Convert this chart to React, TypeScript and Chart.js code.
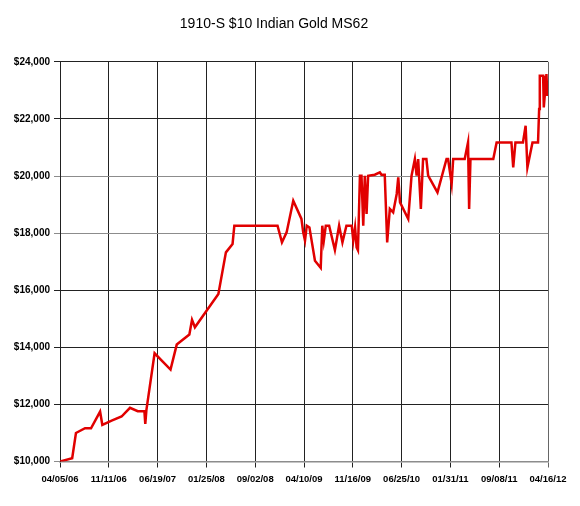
import React, { useEffect, useRef } from "react";
import { Chart, registerables } from "chart.js";

Chart.register(...registerables);

const TITLE = "1910-S $10 Indian Gold MS62";
const START_Y = 2006;
const START_M = 3; // April (0-based)
const START_D = 5;

// days since 04/05/06
const dayOffsets = [
  0, 55, 72, 113, 140, 181, 191, 233, 278, 316, 351, 381, 385, 390, 427, 499,
  527, 584, 596, 609, 715, 749, 779, 787, 982, 1002, 1023, 1053, 1090, 1098,
  1106, 1114, 1126, 1151, 1177, 1184, 1191, 1200, 1215, 1241, 1260, 1275,
  1293, 1317, 1324, 1332, 1339, 1345, 1354, 1361, 1369, 1376, 1384, 1391,
  1421, 1444, 1451, 1466, 1477, 1489, 1504, 1520, 1527, 1535, 1572, 1587,
  1602, 1610, 1617, 1629, 1639, 1654, 1662, 1704, 1745, 1752, 1768, 1775,
  1827, 1842, 1847, 1853, 1956, 1971, 2038, 2046, 2056, 2090, 2102, 2110,
  2133, 2158, 2163, 2166, 2181, 2184, 2192, 2196, 2200,
];

const prices = [
  10000, 10115, 11000, 11165, 11165, 11750, 11285, 11435, 11575, 11880, 11760,
  11760, 11320, 11800, 13790, 13220, 14095, 14445, 14960, 14700, 15870, 17325,
  17620, 18260, 18260, 17675, 18025, 19135, 18495, 18025, 17735, 18260, 18200,
  17035, 16780, 18260, 17735, 18260, 18260, 17410, 18260, 17675, 18260, 18260,
  17735, 18200, 17500, 17400, 20010, 20010, 18260, 20010, 18670, 20010, 20045,
  20125, 20045, 20045, 17675, 18845, 18725, 19370, 19950, 19075, 18495, 20010,
  20595, 20010, 20595, 18845, 20595, 20595, 20010, 19425, 20595, 20595, 19720,
  20595, 20595, 21175, 18845, 20595, 20595, 21175, 21175, 20300, 21175, 21175,
  21760, 20300, 21175, 21175, 22345, 23510, 23510, 22400, 23160, 23570, 22800,
];

const X_MIN = 0;
const X_MAX = 2203;
const X_STEP = 220.3;
const Y_MIN = 10000;
const Y_MAX = 24000;
const Y_STEP = 2000;
const grayGridValues = [10000, 18000, 20000];

const FONT = "'Liberation Sans', Arial, Helvetica, sans-serif";

function fmtDate(offset: number): string {
  const d = new Date(
    Date.UTC(START_Y, START_M, START_D + Math.floor(offset + 1e-6))
  );
  const mm = String(d.getUTCMonth() + 1).padStart(2, "0");
  const dd = String(d.getUTCDate()).padStart(2, "0");
  const yy = String(d.getUTCFullYear() % 100).padStart(2, "0");
  return `${mm}/${dd}/${yy}`;
}

function fmtMoney(v: number): string {
  return "$" + Math.round(v).toLocaleString("en-US");
}

export default function App() {
  const ref = useRef<HTMLCanvasElement | null>(null);

  useEffect(() => {
    if (!ref.current) return;
    const points = dayOffsets.map((x, i) => ({ x, y: prices[i] }));
    const chart = new Chart(ref.current, {
      type: "line",
      data: {
        datasets: [
          {
            data: points,
            borderColor: "#e10000",
            backgroundColor: "#e10000",
            borderWidth: 2.5,
            pointRadius: 0,
            tension: 0,
            fill: false,
          },
        ],
      },
      options: {
        responsive: false,
        animation: false,
        layout: { padding: { left: 0, right: 32, top: 0, bottom: 0 } },
        plugins: {
          legend: { display: false },
          tooltip: { enabled: false },
          title: {
            display: true,
            text: TITLE,
            color: "#000",
            font: { family: FONT, size: 14, weight: "normal" },
            padding: { top: 16, bottom: 29 },
          },
        },
        scales: {
          x: {
            type: "linear",
            min: X_MIN,
            max: X_MAX,
            afterFit: (scale: any) => {
              scale.height = 44.5;
            },
            ticks: {
              stepSize: X_STEP,
              autoSkip: false,
              maxRotation: 0,
              minRotation: 0,
              padding: 6,
              color: "#000",
              font: { family: FONT, size: 9.5, weight: "bold" },
              callback: (v: any) => fmtDate(Number(v)),
            },
            grid: {
              color: (ctx: any) =>
                ctx.tick && Math.abs(ctx.tick.value - X_MAX) < 1
                  ? "#666"
                  : "#222",
              lineWidth: 1,
              drawTicks: true,
              tickLength: 6,
            },
            border: { color: "#8c8c8c", width: 1.5 },
          },
          y: {
            type: "linear",
            min: Y_MIN,
            max: Y_MAX,
            afterFit: (scale: any) => {
              scale.width = 60;
            },
            ticks: {
              stepSize: Y_STEP,
              padding: 4,
              color: "#000",
              font: { family: FONT, size: 10, weight: "bold" },
              callback: (v: any) => fmtMoney(Number(v)),
            },
            grid: {
              color: (ctx: any) =>
                ctx.tick && grayGridValues.includes(ctx.tick.value)
                  ? "#8c8c8c"
                  : "#222",
              lineWidth: 1,
              drawTicks: true,
              tickLength: 6,
            },
            border: { color: "#222", width: 1 },
          },
        },
      },
    });
    return () => chart.destroy();
  }, []);

  return (
    <div
      style={{
        position: "absolute",
        left: 0,
        top: 0,
        width: 580,
        height: 506,
        background: "#fff",
      }}
    >
      <canvas ref={ref} width={580} height={506} />
    </div>
  );
}
